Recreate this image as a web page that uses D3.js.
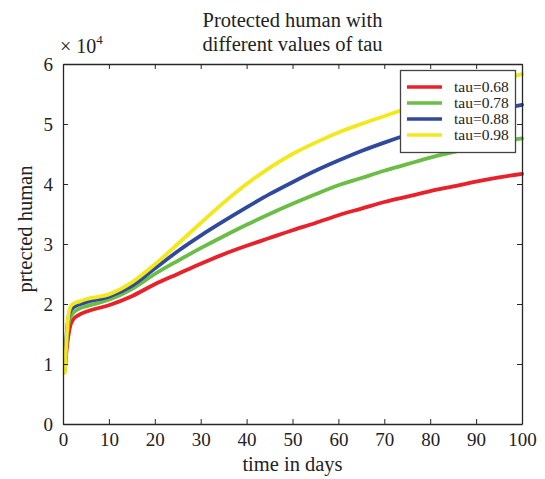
<!DOCTYPE html>
<html lang="en">
<head>
<meta charset="UTF-8">
<title>Protected human with different values of tau</title>
<script src="https://cdnjs.cloudflare.com/ajax/libs/d3/7.8.5/d3.min.js"></script>
<style>
    body { margin: 0; background: #fff; }
    svg { display: block; font-family: "Liberation Serif", "DejaVu Serif", serif; }
</style>
</head>
<body>
<svg id="chart" width="545" height="479"></svg>
<script>
    // values, in units of 10^4
    const days = [0.4, 0.8, 1.2, 1.6, 2.2, 3.5, 5, 10, 15, 20, 25, 30, 35, 40, 45, 50,
                  55, 60, 65, 70, 75, 80, 85, 90, 95, 100];
    const tau068 = [0.9, 1.25, 1.48, 1.64, 1.74, 1.82, 1.87, 1.98, 2.13, 2.33, 2.5, 2.67, 2.83, 2.97, 3.1, 3.23,
                    3.35, 3.48, 3.59, 3.7, 3.79, 3.88, 3.96, 4.04, 4.11, 4.17];
    const tau078 = [0.9, 1.4, 1.68, 1.78, 1.85, 1.92, 1.96, 2.07, 2.25, 2.5, 2.72, 2.93, 3.13, 3.32, 3.5, 3.67,
                    3.83, 3.98, 4.1, 4.22, 4.33, 4.44, 4.53, 4.62, 4.7, 4.76];
    const tau088 = [0.9, 1.5, 1.78, 1.88, 1.94, 1.99, 2.03, 2.12, 2.3, 2.59, 2.88, 3.14, 3.38, 3.61, 3.83, 4.03,
                    4.22, 4.39, 4.55, 4.69, 4.82, 4.94, 5.05, 5.15, 5.24, 5.32];
    const tau098 = [0.85, 1.45, 1.82, 1.95, 2.0, 2.04, 2.08, 2.16, 2.36, 2.66, 3.0, 3.35, 3.69, 4.0, 4.27, 4.5,
                    4.69, 4.86, 5.0, 5.13, 5.26, 5.38, 5.5, 5.62, 5.73, 5.83];
    const seriesNames = ["tau=0.68", "tau=0.78", "tau=0.88", "tau=0.98"];
    const seriesColors = ["#e8212b", "#6abd45", "#2f4a9c", "#f2e81c"];
    const xTicks = [0, 10, 20, 30, 40, 50, 60, 70, 80, 90, 100];
    const yTicks = [0, 1, 2, 3, 4, 5, 6];

    const allSeries = [tau068, tau078, tau088, tau098];

    const svg = d3.select("#chart");
    const plotLeft = 63, plotRight = 522, plotTop = 64, plotBottom = 424;

    const x = d3.scaleLinear().domain([0, 100]).range([plotLeft, plotRight]);
    const y = d3.scaleLinear().domain([0, 6]).range([plotBottom, plotTop]);

    const axisColor = "#262626";
    const textColor = "#222";

    // curves
    const line = d3.line()
        .x(d => x(d[0]))
        .y(d => y(d[1]))
        .curve(d3.curveMonotoneX);

    svg.append("g")
        .selectAll("path")
        .data(allSeries)
        .enter()
        .append("path")
        .attr("d", vals => line(days.map((t, i) => [t, vals[i]])))
        .attr("fill", "none")
        .attr("stroke", (d, i) => seriesColors[i])
        .attr("stroke-width", 3.8)
        .attr("stroke-linejoin", "round")
        .attr("stroke-linecap", "round");

    // axes with inward ticks, boxed
    const styleAxis = g => {
        g.attr("font-family", null).attr("font-size", null);
        g.select(".domain").attr("stroke", axisColor).attr("stroke-width", 1.3);
        g.selectAll(".tick line").attr("stroke", axisColor).attr("stroke-width", 1);
        g.selectAll(".tick text").attr("fill", textColor).attr("font-size", 19);
    };

    svg.append("g")
        .attr("transform", `translate(0,${plotBottom})`)
        .call(d3.axisBottom(x).tickValues(xTicks).tickFormat(d3.format("d"))
            .tickSize(-5).tickPadding(9).tickSizeOuter(0))
        .call(styleAxis);

    svg.append("g")
        .attr("transform", `translate(0,${plotTop})`)
        .call(d3.axisTop(x).tickValues(xTicks).tickSize(-5).tickFormat("").tickSizeOuter(0))
        .call(styleAxis);

    svg.append("g")
        .attr("transform", `translate(${plotLeft},0)`)
        .call(d3.axisLeft(y).tickValues(yTicks).tickFormat(d3.format("d"))
            .tickSize(-5).tickPadding(10).tickSizeOuter(0))
        .call(styleAxis);

    svg.append("g")
        .attr("transform", `translate(${plotRight},0)`)
        .call(d3.axisRight(y).tickValues(yTicks).tickSize(-5).tickFormat("").tickSizeOuter(0))
        .call(styleAxis);

    // exponent marker
    const expo = svg.append("text")
        .attr("x", 60)
        .attr("y", 53)
        .attr("font-size", 20)
        .attr("fill", textColor);
    expo.append("tspan").text("× 10");
    expo.append("tspan").attr("dy", -9).attr("font-size", 13).text("4");

    // title
    const midX = (plotLeft + plotRight) / 2;
    svg.append("text")
        .attr("x", midX)
        .attr("y", 27)
        .attr("text-anchor", "middle")
        .attr("font-size", 20.5)
        .attr("fill", textColor)
        .text("Protected human with");
    svg.append("text")
        .attr("x", midX)
        .attr("y", 51)
        .attr("text-anchor", "middle")
        .attr("font-size", 20.5)
        .attr("fill", textColor)
        .text("different values of tau");

    // axis labels
    svg.append("text")
        .attr("x", midX)
        .attr("y", 471)
        .attr("text-anchor", "middle")
        .attr("font-size", 20.5)
        .attr("fill", textColor)
        .text("time in days");

    svg.append("text")
        .attr("transform", "translate(32,229) rotate(-90)")
        .attr("text-anchor", "middle")
        .attr("font-size", 20.5)
        .attr("fill", textColor)
        .text("prtected human");

    // legend
    const legend = svg.append("g");
    legend.append("rect")
        .attr("x", 400.5)
        .attr("y", 70.5)
        .attr("width", 115)
        .attr("height", 82)
        .attr("fill", "#fff")
        .attr("stroke", "#444")
        .attr("stroke-width", 1.3);

    const rows = legend.selectAll("g.row")
        .data(seriesNames)
        .enter()
        .append("g")
        .attr("class", "row")
        .attr("transform", (d, i) => `translate(0,${87 + i * 16})`);

    rows.append("line")
        .attr("x1", 407).attr("x2", 442)
        .attr("y1", 0).attr("y2", 0)
        .attr("stroke", (d, i) => seriesColors[i])
        .attr("stroke-width", 3.6);

    rows.append("text")
        .attr("x", 454)
        .attr("y", 5)
        .attr("font-size", 15.5)
        .attr("fill", textColor)
        .text(d => d);
</script>
</body>
</html>
